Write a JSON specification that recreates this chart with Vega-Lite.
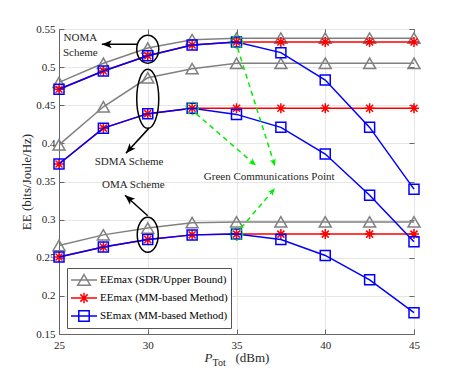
{
  "$schema": "https://vega.github.io/schema/vega-lite/v6.json",
  "width": 355,
  "height": 305,
  "autosize": {"type": "none"},
  "padding": {"left": 59, "top": 29, "right": 44, "bottom": 42},
  "background": "white",
  "config": {
    "view": {"stroke": "#666", "strokeWidth": 1},
    "axis": {
      "labelFont": "Liberation Serif", "labelFontSize": 11, "labelColor": "#262626",
      "titleFont": "Liberation Serif", "titleFontSize": 13, "titleFontWeight": "normal", "titleColor": "#262626",
      "domainColor": "#666", "tickColor": "#666", "gridColor": "#e6e6e6", "tickSize": -5,
      "labelOverlap": false, "labelFlush": false, "labelBound": false, "labelSeparation": 0
    },
    "legend": {
      "padding": 3, "fillColor": "white", "strokeColor": "#555",
      "labelFont": "Liberation Serif", "labelFontSize": 11, "labelColor": "#000",
      "symbolSize": 676, "symbolStrokeWidth": 1.5, "symbolFillColor": "transparent", "symbolOpacity": 1,
      "clipHeight": 18, "labelOffset": 2, "rowPadding": 0
    }
  },
  "resolve": {"axis": {"x": "independent", "y": "independent"}},
  "datasets": {
    "series": [
      {"p": 25, "ee": 0.480, "scheme": "NOMA", "method": "EEmax (SDR/Upper Bound)"},
      {"p": 27.5, "ee": 0.505, "scheme": "NOMA", "method": "EEmax (SDR/Upper Bound)"},
      {"p": 30, "ee": 0.525, "scheme": "NOMA", "method": "EEmax (SDR/Upper Bound)"},
      {"p": 32.5, "ee": 0.536, "scheme": "NOMA", "method": "EEmax (SDR/Upper Bound)"},
      {"p": 35, "ee": 0.538, "scheme": "NOMA", "method": "EEmax (SDR/Upper Bound)"},
      {"p": 37.5, "ee": 0.538, "scheme": "NOMA", "method": "EEmax (SDR/Upper Bound)"},
      {"p": 40, "ee": 0.538, "scheme": "NOMA", "method": "EEmax (SDR/Upper Bound)"},
      {"p": 42.5, "ee": 0.538, "scheme": "NOMA", "method": "EEmax (SDR/Upper Bound)"},
      {"p": 45, "ee": 0.538, "scheme": "NOMA", "method": "EEmax (SDR/Upper Bound)"},
      {"p": 25, "ee": 0.398, "scheme": "SDMA", "method": "EEmax (SDR/Upper Bound)"},
      {"p": 27.5, "ee": 0.448, "scheme": "SDMA", "method": "EEmax (SDR/Upper Bound)"},
      {"p": 30, "ee": 0.486, "scheme": "SDMA", "method": "EEmax (SDR/Upper Bound)"},
      {"p": 32.5, "ee": 0.498, "scheme": "SDMA", "method": "EEmax (SDR/Upper Bound)"},
      {"p": 35, "ee": 0.505, "scheme": "SDMA", "method": "EEmax (SDR/Upper Bound)"},
      {"p": 37.5, "ee": 0.505, "scheme": "SDMA", "method": "EEmax (SDR/Upper Bound)"},
      {"p": 40, "ee": 0.505, "scheme": "SDMA", "method": "EEmax (SDR/Upper Bound)"},
      {"p": 42.5, "ee": 0.505, "scheme": "SDMA", "method": "EEmax (SDR/Upper Bound)"},
      {"p": 45, "ee": 0.505, "scheme": "SDMA", "method": "EEmax (SDR/Upper Bound)"},
      {"p": 25, "ee": 0.266, "scheme": "OMA", "method": "EEmax (SDR/Upper Bound)"},
      {"p": 27.5, "ee": 0.280, "scheme": "OMA", "method": "EEmax (SDR/Upper Bound)"},
      {"p": 30, "ee": 0.289, "scheme": "OMA", "method": "EEmax (SDR/Upper Bound)"},
      {"p": 32.5, "ee": 0.296, "scheme": "OMA", "method": "EEmax (SDR/Upper Bound)"},
      {"p": 35, "ee": 0.297, "scheme": "OMA", "method": "EEmax (SDR/Upper Bound)"},
      {"p": 37.5, "ee": 0.297, "scheme": "OMA", "method": "EEmax (SDR/Upper Bound)"},
      {"p": 40, "ee": 0.297, "scheme": "OMA", "method": "EEmax (SDR/Upper Bound)"},
      {"p": 42.5, "ee": 0.297, "scheme": "OMA", "method": "EEmax (SDR/Upper Bound)"},
      {"p": 45, "ee": 0.297, "scheme": "OMA", "method": "EEmax (SDR/Upper Bound)"},
      {"p": 25, "ee": 0.471, "scheme": "NOMA", "method": "EEmax (MM-based Method)"},
      {"p": 27.5, "ee": 0.495, "scheme": "NOMA", "method": "EEmax (MM-based Method)"},
      {"p": 30, "ee": 0.515, "scheme": "NOMA", "method": "EEmax (MM-based Method)"},
      {"p": 32.5, "ee": 0.529, "scheme": "NOMA", "method": "EEmax (MM-based Method)"},
      {"p": 35, "ee": 0.533, "scheme": "NOMA", "method": "EEmax (MM-based Method)"},
      {"p": 37.5, "ee": 0.533, "scheme": "NOMA", "method": "EEmax (MM-based Method)"},
      {"p": 40, "ee": 0.533, "scheme": "NOMA", "method": "EEmax (MM-based Method)"},
      {"p": 42.5, "ee": 0.533, "scheme": "NOMA", "method": "EEmax (MM-based Method)"},
      {"p": 45, "ee": 0.533, "scheme": "NOMA", "method": "EEmax (MM-based Method)"},
      {"p": 25, "ee": 0.373, "scheme": "SDMA", "method": "EEmax (MM-based Method)"},
      {"p": 27.5, "ee": 0.420, "scheme": "SDMA", "method": "EEmax (MM-based Method)"},
      {"p": 30, "ee": 0.439, "scheme": "SDMA", "method": "EEmax (MM-based Method)"},
      {"p": 32.5, "ee": 0.446, "scheme": "SDMA", "method": "EEmax (MM-based Method)"},
      {"p": 35, "ee": 0.446, "scheme": "SDMA", "method": "EEmax (MM-based Method)"},
      {"p": 37.5, "ee": 0.446, "scheme": "SDMA", "method": "EEmax (MM-based Method)"},
      {"p": 40, "ee": 0.446, "scheme": "SDMA", "method": "EEmax (MM-based Method)"},
      {"p": 42.5, "ee": 0.446, "scheme": "SDMA", "method": "EEmax (MM-based Method)"},
      {"p": 45, "ee": 0.446, "scheme": "SDMA", "method": "EEmax (MM-based Method)"},
      {"p": 25, "ee": 0.251, "scheme": "OMA", "method": "EEmax (MM-based Method)"},
      {"p": 27.5, "ee": 0.264, "scheme": "OMA", "method": "EEmax (MM-based Method)"},
      {"p": 30, "ee": 0.274, "scheme": "OMA", "method": "EEmax (MM-based Method)"},
      {"p": 32.5, "ee": 0.280, "scheme": "OMA", "method": "EEmax (MM-based Method)"},
      {"p": 35, "ee": 0.281, "scheme": "OMA", "method": "EEmax (MM-based Method)"},
      {"p": 37.5, "ee": 0.281, "scheme": "OMA", "method": "EEmax (MM-based Method)"},
      {"p": 40, "ee": 0.281, "scheme": "OMA", "method": "EEmax (MM-based Method)"},
      {"p": 42.5, "ee": 0.281, "scheme": "OMA", "method": "EEmax (MM-based Method)"},
      {"p": 45, "ee": 0.281, "scheme": "OMA", "method": "EEmax (MM-based Method)"},
      {"p": 25, "ee": 0.471, "scheme": "NOMA", "method": "SEmax (MM-based Method)"},
      {"p": 27.5, "ee": 0.495, "scheme": "NOMA", "method": "SEmax (MM-based Method)"},
      {"p": 30, "ee": 0.515, "scheme": "NOMA", "method": "SEmax (MM-based Method)"},
      {"p": 32.5, "ee": 0.529, "scheme": "NOMA", "method": "SEmax (MM-based Method)"},
      {"p": 35, "ee": 0.533, "scheme": "NOMA", "method": "SEmax (MM-based Method)"},
      {"p": 37.5, "ee": 0.519, "scheme": "NOMA", "method": "SEmax (MM-based Method)"},
      {"p": 40, "ee": 0.483, "scheme": "NOMA", "method": "SEmax (MM-based Method)"},
      {"p": 42.5, "ee": 0.421, "scheme": "NOMA", "method": "SEmax (MM-based Method)"},
      {"p": 45, "ee": 0.340, "scheme": "NOMA", "method": "SEmax (MM-based Method)"},
      {"p": 25, "ee": 0.373, "scheme": "SDMA", "method": "SEmax (MM-based Method)"},
      {"p": 27.5, "ee": 0.420, "scheme": "SDMA", "method": "SEmax (MM-based Method)"},
      {"p": 30, "ee": 0.439, "scheme": "SDMA", "method": "SEmax (MM-based Method)"},
      {"p": 32.5, "ee": 0.446, "scheme": "SDMA", "method": "SEmax (MM-based Method)"},
      {"p": 35, "ee": 0.438, "scheme": "SDMA", "method": "SEmax (MM-based Method)"},
      {"p": 37.5, "ee": 0.421, "scheme": "SDMA", "method": "SEmax (MM-based Method)"},
      {"p": 40, "ee": 0.386, "scheme": "SDMA", "method": "SEmax (MM-based Method)"},
      {"p": 42.5, "ee": 0.332, "scheme": "SDMA", "method": "SEmax (MM-based Method)"},
      {"p": 45, "ee": 0.271, "scheme": "SDMA", "method": "SEmax (MM-based Method)"},
      {"p": 25, "ee": 0.251, "scheme": "OMA", "method": "SEmax (MM-based Method)"},
      {"p": 27.5, "ee": 0.264, "scheme": "OMA", "method": "SEmax (MM-based Method)"},
      {"p": 30, "ee": 0.274, "scheme": "OMA", "method": "SEmax (MM-based Method)"},
      {"p": 32.5, "ee": 0.280, "scheme": "OMA", "method": "SEmax (MM-based Method)"},
      {"p": 35, "ee": 0.281, "scheme": "OMA", "method": "SEmax (MM-based Method)"},
      {"p": 37.5, "ee": 0.274, "scheme": "OMA", "method": "SEmax (MM-based Method)"},
      {"p": 40, "ee": 0.253, "scheme": "OMA", "method": "SEmax (MM-based Method)"},
      {"p": 42.5, "ee": 0.221, "scheme": "OMA", "method": "SEmax (MM-based Method)"},
      {"p": 45, "ee": 0.178, "scheme": "OMA", "method": "SEmax (MM-based Method)"}
    ],
    "gcp": [
      {"p": 35, "ee": 0.533},
      {"p": 32.5, "ee": 0.446},
      {"p": 35, "ee": 0.281}
    ],
    "arrows": [
      {"name": "noma", "kind": "black", "p": 29.41, "ee": 0.530, "p2": 27.41, "ee2": 0.530},
      {"name": "sdma", "kind": "black", "p": 30.07, "ee": 0.420, "p2": 28.77, "ee2": 0.387},
      {"name": "oma", "kind": "black", "p": 30.0, "ee": 0.305, "p2": 28.72, "ee2": 0.332},
      {"name": "g1", "kind": "green", "p": 35.06, "ee": 0.525, "p2": 37.17, "ee2": 0.370},
      {"name": "g2", "kind": "green", "p": 32.72, "ee": 0.439, "p2": 36.10, "ee2": 0.371},
      {"name": "g3", "kind": "green", "p": 35.25, "ee": 0.289, "p2": 37.17, "ee2": 0.341}
    ],
    "notes": [
      {"p": 26.2, "ee": 0.538, "label": "NOMA"},
      {"p": 26.2, "ee": 0.519, "label": "Scheme"},
      {"p": 28.95, "ee": 0.376, "label": "SDMA Scheme"},
      {"p": 29.19, "ee": 0.3455, "label": "OMA Scheme"},
      {"p": 36.84, "ee": 0.3555, "label": "Green Communications Point"}
    ],
    "one": [{}]
  },
  "layer": [
    {
      "data": {"name": "one"},
      "mark": {"type": "point", "opacity": 0},
      "encoding": {
        "x": {"datum": 35, "type": "quantitative", "scale": {"domain": [25, 45], "nice": false, "zero": false},
              "axis": {"orient": "top", "values": [25, 30, 35, 40, 45], "labels": false, "title": null, "grid": false, "domain": false}},
        "y": {"datum": 0.3, "type": "quantitative", "scale": {"domain": [0.15, 0.55], "nice": false, "zero": false},
              "axis": {"orient": "right", "values": [0.15, 0.2, 0.25, 0.3, 0.35, 0.4, 0.45, 0.5, 0.55], "labels": false, "title": null, "grid": false, "domain": false}}
      }
    },
    {
      "data": {"name": "series"},
      "transform": [{"filter": "datum.method === 'EEmax (SDR/Upper Bound)'"}],
      "mark": {"type": "line", "color": "#808080", "strokeWidth": 1.5},
      "encoding": {
        "x": {"field": "p", "type": "quantitative",
              "axis": {"orient": "bottom", "values": [25, 30, 35, 40, 45], "title": null, "grid": true, "labelOverlap": false, "labelFlush": false, "labelPadding": 10}},
        "y": {"field": "ee", "type": "quantitative",
              "axis": {"orient": "left", "values": [0.15, 0.2, 0.25, 0.3, 0.35, 0.4, 0.45, 0.5, 0.55], "labelExpr": "format(datum.value, '.2~f')", "title": "EE (bits/Joule/Hz)", "grid": true, "titlePadding": 2, "labelOverlap": false, "labelFlush": false, "labelPadding": 9}},
        "detail": {"field": "scheme"}
      }
    },
    {
      "data": {"name": "series"},
      "transform": [{"filter": "datum.method === 'EEmax (SDR/Upper Bound)'"}],
      "mark": {"type": "point", "shape": "triangle-up", "size": 144, "filled": false, "color": "#808080", "strokeWidth": 1.5, "opacity": 1},
      "encoding": {"x": {"field": "p", "type": "quantitative", "axis": null}, "y": {"field": "ee", "type": "quantitative", "axis": null}}
    },
    {
      "data": {"name": "series"},
      "transform": [{"filter": "datum.method === 'EEmax (MM-based Method)'"}],
      "mark": {"type": "line", "color": "#ff0000", "strokeWidth": 1.5},
      "encoding": {"x": {"field": "p", "type": "quantitative", "axis": null}, "y": {"field": "ee", "type": "quantitative", "axis": null}, "detail": {"field": "scheme"}}
    },
    {
      "data": {"name": "series"},
      "transform": [{"filter": "datum.method === 'EEmax (MM-based Method)'"}],
      "mark": {"type": "point", "shape": "M0,-1L0,1M-1,0L1,0M-0.7,-0.7L0.7,0.7M-0.7,0.7L0.7,-0.7", "size": 100, "filled": false, "color": "#ff0000", "strokeWidth": 1.5, "opacity": 1},
      "encoding": {"x": {"field": "p", "type": "quantitative", "axis": null}, "y": {"field": "ee", "type": "quantitative", "axis": null}}
    },
    {
      "data": {"name": "series"},
      "transform": [{"filter": "datum.method === 'SEmax (MM-based Method)'"}],
      "mark": {"type": "line", "color": "#0000ff", "strokeWidth": 1.5},
      "encoding": {"x": {"field": "p", "type": "quantitative", "axis": null}, "y": {"field": "ee", "type": "quantitative", "axis": null}, "detail": {"field": "scheme"}}
    },
    {
      "data": {"name": "series"},
      "transform": [{"filter": "datum.method === 'SEmax (MM-based Method)'"}],
      "mark": {"type": "point", "shape": "square", "size": 100, "filled": false, "color": "#0000ff", "strokeWidth": 1.5, "opacity": 1},
      "encoding": {"x": {"field": "p", "type": "quantitative", "axis": null}, "y": {"field": "ee", "type": "quantitative", "axis": null}}
    },
    {
      "data": {"name": "gcp"},
      "mark": {"type": "point", "shape": "circle", "size": 150, "filled": false, "color": "#00ee00", "strokeWidth": 1.5, "strokeDash": [2, 2], "opacity": 1},
      "encoding": {"x": {"field": "p", "type": "quantitative", "axis": null}, "y": {"field": "ee", "type": "quantitative", "axis": null}}
    },
    {
      "data": {"name": "one"},
      "mark": {"type": "point", "shape": "M0,-1A0.786,1,0,1,1,0,1A0.786,1,0,1,1,0,-1Z", "size": 784, "filled": false, "color": "#000", "strokeWidth": 1.5, "opacity": 1},
      "encoding": {"x": {"datum": 30, "type": "quantitative", "axis": null}, "y": {"datum": 0.5235, "type": "quantitative", "axis": null}}
    },
    {
      "data": {"name": "one"},
      "mark": {"type": "point", "shape": "M0,-1A0.373,1,0,1,1,0,1A0.373,1,0,1,1,0,-1Z", "size": 3481, "filled": false, "color": "#000", "strokeWidth": 1.5, "opacity": 1},
      "encoding": {"x": {"datum": 30, "type": "quantitative", "axis": null}, "y": {"datum": 0.4584, "type": "quantitative", "axis": null}}
    },
    {
      "data": {"name": "one"},
      "mark": {"type": "point", "shape": "M0,-1A0.6,1,0,1,1,0,1A0.6,1,0,1,1,0,-1Z", "size": 1225, "filled": false, "color": "#000", "strokeWidth": 1.5, "opacity": 1},
      "encoding": {"x": {"datum": 30, "type": "quantitative", "axis": null}, "y": {"datum": 0.2803, "type": "quantitative", "axis": null}}
    },
    {
      "data": {"name": "arrows"},
      "transform": [{"filter": "datum.kind === 'black'"}],
      "mark": {"type": "rule", "color": "#000", "strokeWidth": 1.5},
      "encoding": {"x": {"field": "p", "type": "quantitative", "axis": null}, "y": {"field": "ee", "type": "quantitative", "axis": null}, "x2": {"field": "p2"}, "y2": {"field": "ee2"}}
    },
    {
      "data": {"name": "arrows"},
      "transform": [{"filter": "datum.kind === 'green'"}],
      "mark": {"type": "rule", "color": "#00ee00", "strokeWidth": 1.5, "strokeDash": [5, 4]},
      "encoding": {"x": {"field": "p", "type": "quantitative", "axis": null}, "y": {"field": "ee", "type": "quantitative", "axis": null}, "x2": {"field": "p2"}, "y2": {"field": "ee2"}}
    },
    {
      "data": {"name": "arrows"},
      "transform": [{"filter": "datum.name === 'noma'"}],
      "mark": {"type": "point", "shape": "M0,0L-0.4,1L0,0.75L0.4,1Z", "size": 400, "filled": true, "color": "#000", "opacity": 1, "angle": 270},
      "encoding": {"x": {"field": "p2", "type": "quantitative", "axis": null}, "y": {"field": "ee2", "type": "quantitative", "axis": null}}
    },
    {
      "data": {"name": "arrows"},
      "transform": [{"filter": "datum.name === 'sdma'"}],
      "mark": {"type": "point", "shape": "M0,0L-0.4,1L0,0.75L0.4,1Z", "size": 400, "filled": true, "color": "#000", "opacity": 1, "angle": 222},
      "encoding": {"x": {"field": "p2", "type": "quantitative", "axis": null}, "y": {"field": "ee2", "type": "quantitative", "axis": null}}
    },
    {
      "data": {"name": "arrows"},
      "transform": [{"filter": "datum.name === 'oma'"}],
      "mark": {"type": "point", "shape": "M0,0L-0.4,1L0,0.75L0.4,1Z", "size": 400, "filled": true, "color": "#000", "opacity": 1, "angle": 311},
      "encoding": {"x": {"field": "p2", "type": "quantitative", "axis": null}, "y": {"field": "ee2", "type": "quantitative", "axis": null}}
    },
    {
      "data": {"name": "arrows"},
      "transform": [{"filter": "datum.name === 'g1'"}],
      "mark": {"type": "point", "shape": "M0,0L-0.4,1L0,0.75L0.4,1Z", "size": 225, "filled": true, "color": "#00ee00", "opacity": 1, "angle": 162},
      "encoding": {"x": {"field": "p2", "type": "quantitative", "axis": null}, "y": {"field": "ee2", "type": "quantitative", "axis": null}}
    },
    {
      "data": {"name": "arrows"},
      "transform": [{"filter": "datum.name === 'g2'"}],
      "mark": {"type": "point", "shape": "M0,0L-0.4,1L0,0.75L0.4,1Z", "size": 225, "filled": true, "color": "#00ee00", "opacity": 1, "angle": 130},
      "encoding": {"x": {"field": "p2", "type": "quantitative", "axis": null}, "y": {"field": "ee2", "type": "quantitative", "axis": null}}
    },
    {
      "data": {"name": "arrows"},
      "transform": [{"filter": "datum.name === 'g3'"}],
      "mark": {"type": "point", "shape": "M0,0L-0.4,1L0,0.75L0.4,1Z", "size": 225, "filled": true, "color": "#00ee00", "opacity": 1, "angle": 41},
      "encoding": {"x": {"field": "p2", "type": "quantitative", "axis": null}, "y": {"field": "ee2", "type": "quantitative", "axis": null}}
    },
    {
      "data": {"name": "notes"},
      "mark": {"type": "text", "font": "Liberation Serif", "fontSize": 11, "color": "#262626", "align": "center", "baseline": "middle"},
      "encoding": {"x": {"field": "p", "type": "quantitative", "axis": null}, "y": {"field": "ee", "type": "quantitative", "axis": null}, "text": {"field": "label"}}
    },
    {
      "data": {"name": "one"},
      "mark": {"type": "text", "font": "Liberation Serif", "fontSize": 13, "fontStyle": "italic", "color": "#262626", "align": "right", "baseline": "alphabetic", "dx": -24, "dy": 28},
      "encoding": {"x": {"datum": 35, "type": "quantitative", "axis": null}, "y": {"datum": 0.15, "type": "quantitative", "axis": null}, "text": {"value": "P"}}
    },
    {
      "data": {"name": "one"},
      "mark": {"type": "text", "font": "Liberation Serif", "fontSize": 10, "color": "#262626", "align": "left", "baseline": "alphabetic", "dx": -24, "dy": 32},
      "encoding": {"x": {"datum": 35, "type": "quantitative", "axis": null}, "y": {"datum": 0.15, "type": "quantitative", "axis": null}, "text": {"value": "Tot"}}
    },
    {
      "data": {"name": "one"},
      "mark": {"type": "text", "font": "Liberation Serif", "fontSize": 13, "color": "#262626", "align": "left", "baseline": "alphabetic", "dx": -1, "dy": 28},
      "encoding": {"x": {"datum": 35, "type": "quantitative", "axis": null}, "y": {"datum": 0.15, "type": "quantitative", "axis": null}, "text": {"value": "(dBm)"}}
    },
    {
      "data": {"name": "series"},
      "mark": {"type": "point", "filled": false, "opacity": 0, "size": 676},
      "encoding": {
        "x": {"field": "p", "type": "quantitative", "axis": null},
        "y": {"field": "ee", "type": "quantitative", "axis": null},
        "shape": {"field": "method", "type": "nominal",
          "scale": {"domain": ["EEmax (SDR/Upper Bound)", "EEmax (MM-based Method)", "SEmax (MM-based Method)"],
                    "range": ["M-1,0L1,0M0,-0.42L0.48,0.4L-0.48,0.4Z", "M-1,0L1,0M0,-0.4L0,0.4M-0.28,-0.28L0.28,0.28M-0.28,0.28L0.28,-0.28", "M-1,0L1,0M-0.4,-0.4L0.4,-0.4L0.4,0.4L-0.4,0.4Z"]},
          "legend": {"title": null, "orient": "none", "legendX": 8, "legendY": 239}},
        "color": {"field": "method", "type": "nominal",
          "scale": {"domain": ["EEmax (SDR/Upper Bound)", "EEmax (MM-based Method)", "SEmax (MM-based Method)"],
                    "range": ["#808080", "#ff0000", "#0000ff"]},
          "legend": {"title": null, "orient": "none", "legendX": 8, "legendY": 239}}
      }
    }
  ]
}
